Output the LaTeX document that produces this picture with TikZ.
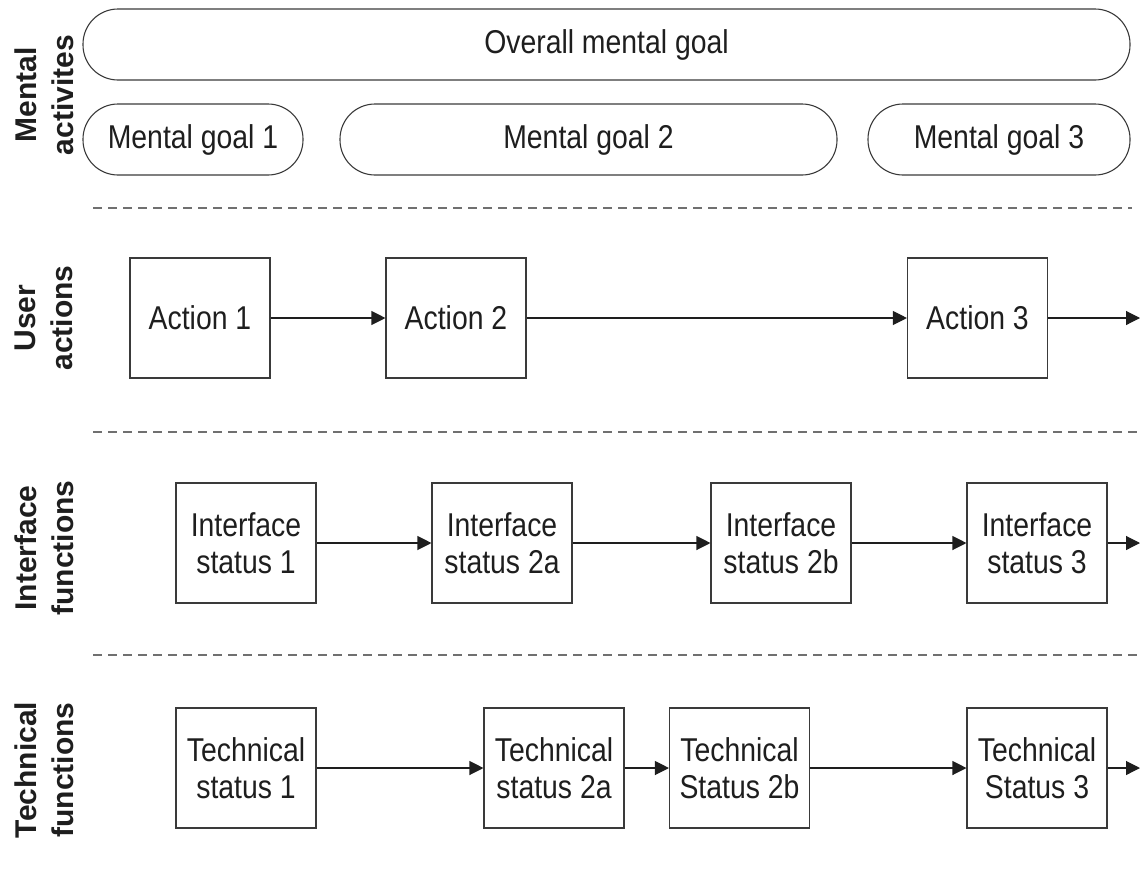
\documentclass[tikz,border=0pt]{standalone}
\usepackage{fontspec}
\setmainfont{Liberation Sans}
% box text: tall, slightly condensed sans
\newfontfamily\boxfont[FakeStretch=0.86]{Liberation Sans}
\usetikzlibrary{arrows.meta}
\definecolor{ink}{HTML}{1E1E1E}
\definecolor{edge}{HTML}{3A3A3A}
\definecolor{sep}{HTML}{707070}
\begin{document}
\begin{tikzpicture}[x=1pt,y=-1pt,
  every node/.style={font=\boxfont\fontsize{33}{37}\selectfont, text=ink, align=center},
  goal/.style={draw=edge, line width=1.1pt, rounded corners=35pt, minimum height=71pt, inner sep=0pt},
  stepbox/.style={draw=edge, line width=1.1pt, minimum width=140pt, minimum height=120pt, inner sep=0pt},
  flow/.style={draw=ink, line width=1.1pt, -{Triangle[length=14pt,width=14pt]}},
  rowlabel/.style={rotate=90, font=\bfseries\fontsize{30}{37}\selectfont},
  divider/.style={draw=sep, line width=1.1pt, dash pattern=on 9pt off 6pt}]
\useasboundingbox (0,0) rectangle (1142,876);

% mental activities
\node[goal, minimum width=1047pt] (overall) at (606.5,44.5) {Overall mental goal};
\node[goal, minimum width=220pt] (mg1) at (193,139.5) {Mental goal 1};
\node[goal, minimum width=497pt] (mg2) at (588.5,139.5) {Mental goal 2};
\node[goal, minimum width=262pt] (mg3) at (999,139.5) {Mental goal 3};
\node[rowlabel] (lab1) at (44,95) {Mental\\activites};

\draw[divider] (93,208) -- (1132,208);

% user actions
\node[stepbox] (a1) at (200,318) {Action 1};
\node[stepbox] (a2) at (456,318) {Action 2};
\node[stepbox] (a3) at (977.5,318) {Action 3};
\coordinate (aend) at (1140,318);
\draw[flow] (a1) -- (a2);
\draw[flow] (a2) -- (a3);
\draw[flow] (a3) -- (aend);
\node[rowlabel] (lab2) at (44,318) {User\\actions};

\draw[divider] (93,432) -- (1138,432);

% interface functions
\node[stepbox] (i1) at (246,543) {Interface\\status 1};
\node[stepbox] (i2) at (502,543) {Interface\\status 2a};
\node[stepbox] (i3) at (781,543) {Interface\\status 2b};
\node[stepbox] (i4) at (1037,543) {Interface\\status 3};
\coordinate (iend) at (1140,543);
\draw[flow] (i1) -- (i2);
\draw[flow] (i2) -- (i3);
\draw[flow] (i3) -- (i4);
\draw[flow] (i4) -- (iend);
\node[rowlabel] (lab3) at (44,548) {Interface\\functions};

\draw[divider] (93,655) -- (1138,655);

% technical functions
\node[stepbox] (t1) at (246,768) {Technical\\status 1};
\node[stepbox] (t2) at (554,768) {Technical\\status 2a};
\node[stepbox] (t3) at (739.5,768) {Technical\\Status 2b};
\node[stepbox] (t4) at (1037,768) {Technical\\Status 3};
\coordinate (tend) at (1140,768);
\draw[flow] (t1) -- (t2);
\draw[flow] (t2) -- (t3);
\draw[flow] (t3) -- (t4);
\draw[flow] (t4) -- (tend);
\node[rowlabel] (lab4) at (44,770) {Technical\\functions};
\end{tikzpicture}
\end{document}
